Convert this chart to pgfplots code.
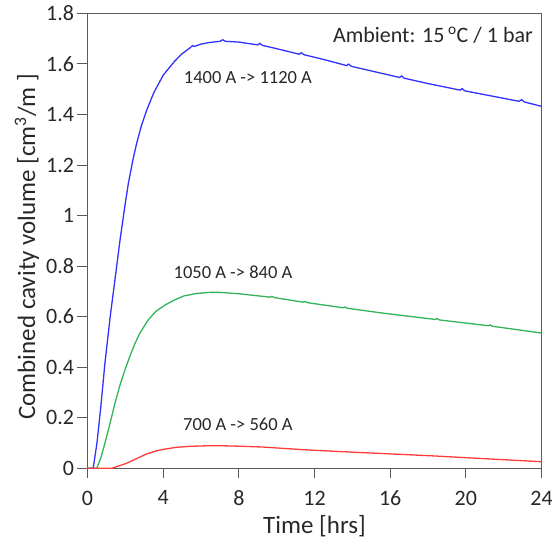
\documentclass[border=0pt]{standalone}
\usepackage{fontspec}
\setmainfont{Carlito}
\usepackage{pgfplots}
\pgfplotsset{compat=1.18}
\definecolor{cblue}{RGB}{50,50,255}
\definecolor{cgreen}{RGB}{50,180,90}
\definecolor{cred}{RGB}{255,60,60}
\definecolor{axgray}{RGB}{90,90,90}
\definecolor{txt}{RGB}{40,40,40}
\begin{document}
\begin{tikzpicture}
\begin{axis}[
  scale only axis,
  width=454pt, height=455pt,
  xmin=0, xmax=24, ymin=0, ymax=1.8,
  xtick={0,4,...,24},
  ytick={0,0.2,0.4,0.6,0.8,1,1.2,1.4,1.6,1.8},
  xtick pos=left, ytick pos=left,
  tick align=outside,
  major tick length=10pt,
  axis line style={axgray, line width=0.9pt},
  every tick/.style={axgray, line width=0.9pt},
  /pgf/number format/assume math mode=true,
  ticklabel style={font=\fontsize{22}{22}\selectfont, text=txt},
  yticklabel style={xshift=0pt},
  xticklabel style={yshift=-9pt},
  xlabel={Time [hrs]},
  ylabel={Combined cavity volume [cm\textsuperscript{3}/m ]},
  label style={font=\fontsize{25}{25}\selectfont, text=txt},
  xlabel style={yshift=-3pt},
  ylabel style={xshift=-6pt},
  clip=false,
]
\addplot[cblue, line width=1.3pt] coordinates {
(0,0) (0.3,0) (0.5,0.10) (0.7,0.24) (0.92,0.415) (1.2,0.6) (1.45,0.745)
(1.72,0.903) (2.0,1.05) (2.16,1.127) (2.4,1.22) (2.6,1.286) (2.85,1.355)
(3.13,1.417) (3.5,1.485) (4.0,1.555) (4.6,1.610) (5.0,1.640) (5.45,1.665)
(5.55,1.672) (5.65,1.669) (6.0,1.678) (6.4,1.684) (7.0,1.689) (7.15,1.695)
(7.3,1.689) (8.0,1.686) (9.0,1.675) (9.1,1.681) (9.25,1.673) (10,1.660)
(11.2,1.638) (11.3,1.644) (11.45,1.636) (12.5,1.617) (13.7,1.593)
(13.8,1.599) (13.95,1.590) (15,1.572) (16.5,1.546) (16.6,1.552)
(16.75,1.543) (18,1.522) (19.7,1.496) (19.8,1.502) (19.95,1.493)
(21,1.478) (22.8,1.452) (22.95,1.458) (23.1,1.449) (24,1.432)
};
\addplot[cgreen, line width=1.3pt] coordinates {
(0,0) (0.49,0) (0.7,0.04) (0.92,0.099) (1.2,0.18) (1.45,0.257) (1.7,0.325)
(1.98,0.389) (2.25,0.445) (2.51,0.494) (2.77,0.535) (3.21,0.587) (3.6,0.62)
(4.1,0.646) (4.6,0.666) (5.1,0.682) (5.8,0.692) (6.5,0.696) (7.0,0.696)
(7.7,0.692) (8.06,0.690) (9.65,0.677) (9.75,0.680) (9.9,0.675) (11.41,0.657)
(11.5,0.660) (11.65,0.655) (13.52,0.635) (13.6,0.638) (13.75,0.633)
(15.6,0.614) (18.37,0.589) (18.47,0.592) (18.6,0.587) (21.18,0.564)
(21.28,0.567) (21.4,0.562) (24,0.535)
};
\addplot[cred, line width=1.3pt] coordinates {
(0,0) (1.28,0) (1.6,0.008) (2.0,0.018) (2.25,0.026) (2.7,0.042) (3.13,0.057)
(3.6,0.068) (4.01,0.075) (4.7,0.083) (5.42,0.087) (6.3,0.089) (7.18,0.089)
(8.2,0.087) (9.29,0.084) (10.5,0.078) (11.76,0.072) (14.23,0.063) (16,0.057)
(18.28,0.049) (21,0.038) (24,0.026)
};
\node[font=\fontsize{18.5}{18.5}\selectfont, text=txt] at (axis cs:8.48,1.544) {1400 A -> 1120 A};
\node[font=\fontsize{18.5}{18.5}\selectfont, text=txt] at (axis cs:7.69,0.777) {1050 A -> 840 A};
\node[font=\fontsize{18.5}{18.5}\selectfont, text=txt] at (axis cs:7.95,0.175) {700 A -> 560 A};
\node[font=\fontsize{22}{22}\selectfont, text=txt, anchor=east, inner sep=0pt] at (axis cs:23.55,1.714) {Ambient: 15\,\textsuperscript{o}C / 1 bar};
\coordinate (SW) at (rel axis cs:0,0);
\coordinate (NE) at (rel axis cs:1,1);
\end{axis}
\pgfresetboundingbox
\path ([shift={(-87.5pt,-73.7pt)}]SW) rectangle ([shift={(10.5pt,13.3pt)}]NE);
\end{tikzpicture}
\end{document}
